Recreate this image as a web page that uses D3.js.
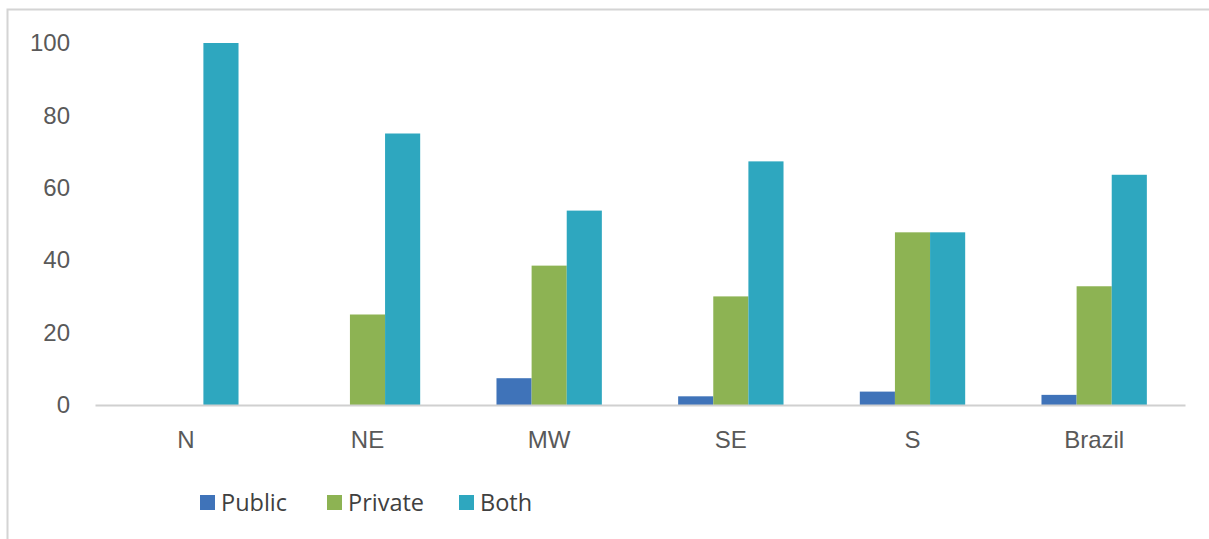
<!DOCTYPE html>
<html>
<head>
<meta charset="utf-8">
<script src="https://cdn.jsdelivr.net/npm/d3@7"></script>
<style>
  html, body { margin: 0; padding: 0; background: #fff; }
  svg { display: block; font-family: "Open Sans", "Noto Sans", sans-serif; }
</style>
</head>
<body>
<div id="chart"></div>
<script>
// Regions and the three series (percent)
const regions = ['N', 'NE', 'MW', 'SE', 'S', 'Brazil'];
const seriesNames = ['Public', 'Private', 'Both'];
const publicValues = [0, 0, 7.4, 2.4, 3.7, 2.8];
const privateValues = [0, 25, 38.5, 30, 47.7, 32.8];
const bothValues = [100, 75, 53.7, 67.3, 47.7, 63.6];
const yTicks = [0, 20, 40, 60, 80, 100];
const colors = ['#3f73b9', '#8db353', '#2ea7bf'];

const width = 1209, height = 539;
const margin = { top: 43, right: 24, bottom: 134, left: 95 };

const svg = d3.select('#chart').append('svg')
  .attr('width', width)
  .attr('height', height);

// chart frame (only top and left edges visible in the crop)
svg.append('path')
  .attr('d', `M7.5,${height} V9.5 H${width}`)
  .attr('fill', 'none')
  .attr('stroke', '#d4d4d4')
  .attr('stroke-width', 2);

const x0 = d3.scaleBand()
  .domain(regions)
  .range([margin.left, width - margin.right])
  .paddingInner(0.42)
  .paddingOuter(0.21);

const x1 = d3.scaleBand()
  .domain(seriesNames)
  .range([0, x0.bandwidth()]);

const y = d3.scaleLinear()
  .domain([0, 100])
  .range([height - margin.bottom, margin.top]);

const table = regions.map((r, i) => ({
  region: r,
  values: [publicValues[i], privateValues[i], bothValues[i]]
}));

// y tick labels
const yAxis = svg.append('g')
  .attr('transform', `translate(${margin.left - 25},0)`)
  .call(d3.axisLeft(y).tickValues(yTicks).tickSize(0).tickPadding(0));
yAxis.select('.domain').remove();
yAxis.selectAll('text')
  .attr('fill', '#595959')
  .style('font-size', '24px');

// bars
const groups = svg.append('g').selectAll('g')
  .data(table)
  .join('g')
  .attr('transform', d => `translate(${x0(d.region)},0)`);

groups.selectAll('rect')
  .data(d => d.values.map((v, k) => ({ key: seriesNames[k], value: v, k })))
  .join('rect')
  .attr('x', d => x1(d.key))
  .attr('width', x1.bandwidth())
  .attr('y', d => y(d.value))
  .attr('height', d => y(0) - y(d.value))
  .attr('fill', d => colors[d.k]);

// x axis
const xAxis = svg.append('g')
  .attr('transform', `translate(0,${y(0)})`)
  .call(d3.axisBottom(x0).tickSize(0).tickPadding(26));
xAxis.select('.domain')
  .attr('stroke', '#d0d0d0')
  .attr('stroke-width', 2);
xAxis.selectAll('text')
  .attr('fill', '#595959')
  .style('font-size', '24px');

// legend
const legendX = [200, 327, 459];
const legend = svg.append('g')
  .selectAll('g')
  .data(seriesNames)
  .join('g')
  .attr('transform', (d, i) => `translate(${legendX[i]},495)`);

legend.append('rect')
  .attr('width', 15)
  .attr('height', 15)
  .attr('fill', (d, i) => colors[i]);

legend.append('text')
  .attr('x', 21)
  .attr('y', 16)
  .attr('fill', '#404040')
  .style('font-size', '23.5px')
  .text(d => d);
</script>
</body>
</html>
